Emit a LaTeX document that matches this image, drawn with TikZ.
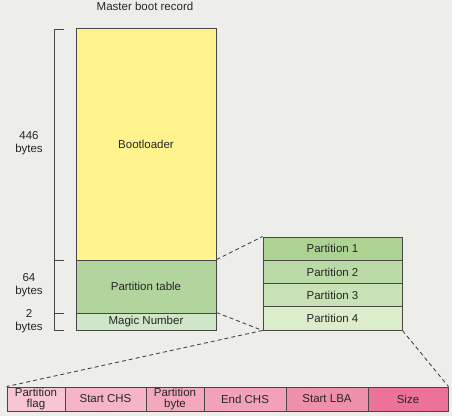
\documentclass[tikz,border=0pt]{standalone}
\usepackage{fontspec}
\setmainfont{Liberation Sans}
\begin{document}
\begin{tikzpicture}[x=1pt,y=-1pt,
  box/.style={draw=black!72,line width=0.9pt,inner sep=0pt,text=black!85,font=\fontsize{11.5}{10.5}\selectfont,align=center},
  lbl/.style={text=black!85,font=\fontsize{11.5}{13}\selectfont,align=center,inner sep=0pt},
  dl/.style={dashed,dash pattern=on 4pt off 3pt,line width=0.9pt,black!72},
  brk/.style={line width=0.9pt,black!72}]
\definecolor{bg}{HTML}{EDEDEA}
\fill[bg] (0,0) rectangle (452,416);
\useasboundingbox (0,0) rectangle (452,416);
\definecolor{yel}{HTML}{FFF38E}
\definecolor{pt}{HTML}{B2D59D}
\definecolor{mg}{HTML}{CFE6C9}
\definecolor{pa}{HTML}{ADD393}
\definecolor{pb}{HTML}{BBDBA6}
\definecolor{pc}{HTML}{C8E2B6}
\definecolor{pd}{HTML}{DCEDCC}
\definecolor{ka}{HTML}{F8C6D2}
\definecolor{kb}{HTML}{F5B5C6}
\definecolor{kc}{HTML}{F3A8BC}
\definecolor{kd}{HTML}{F2A2B8}
\definecolor{ke}{HTML}{EF90AB}
\definecolor{kf}{HTML}{EC7397}

\node[lbl] (title) at (145,6) {Master boot record};
\node[box,fill=yel,minimum width=140pt,minimum height=232pt] (boot) at (146,144) {Bootloader};
\node[box,fill=pt,minimum width=140pt,minimum height=53pt] (ptab) at (146,286.5) {Partition table};
\node[box,fill=mg,minimum width=140pt,minimum height=17pt] (magic) at (146,321.5) {Magic Number};

\node[box,fill=pa,minimum width=139pt,minimum height=23.25pt] (p1) at (332.5,248.6) {Partition 1};
\node[box,fill=pb,minimum width=139pt,minimum height=23.25pt] (p2) at (332.5,271.9) {Partition 2};
\node[box,fill=pc,minimum width=139pt,minimum height=23.25pt] (p3) at (332.5,295.1) {Partition 3};
\node[box,fill=pd,minimum width=139pt,minimum height=23.25pt] (p4) at (332.5,318.4) {Partition 4};

\node[box,fill=ka,minimum width=58pt,minimum height=24pt] (f1) at (36,399) {Partition\\flag};
\node[box,fill=kb,minimum width=81pt,minimum height=24pt] (f2) at (105.5,399) {Start CHS};
\node[box,fill=kc,minimum width=58pt,minimum height=24pt] (f3) at (175,399) {Partition\\byte};
\node[box,fill=kd,minimum width=82pt,minimum height=24pt] (f4) at (245,399) {End CHS};
\node[box,fill=ke,minimum width=82pt,minimum height=24pt] (f5) at (327,399) {Start LBA};
\node[box,fill=kf,minimum width=80pt,minimum height=24pt] (f6) at (408,399) {Size};

\draw[dl] (ptab.north east) -- (p1.north west);
\draw[dl] (magic.north east) -- (p4.south west);
\draw[dl] (p4.south west) -- (f1.north west);
\draw[dl] (p4.south east) -- (f6.north east);

\coordinate (b0) at (54,29);
\coordinate (b1) at (54,260);
\coordinate (b2) at (54,313);
\coordinate (b3) at (54,330);
\draw[brk] ([xshift=10pt]b0) -- (b0) -- (b3) -- ([xshift=10pt]b3);
\draw[brk] (b1) -- ([xshift=10pt]b1);
\draw[brk] (b2) -- ([xshift=10pt]b2);

\node[lbl] (l1) at (29,143) {446\\bytes};
\node[lbl] (l2) at (29,285) {64\\bytes};
\node[lbl] (l3) at (29,321) {2\\bytes};
\end{tikzpicture}
\end{document}
